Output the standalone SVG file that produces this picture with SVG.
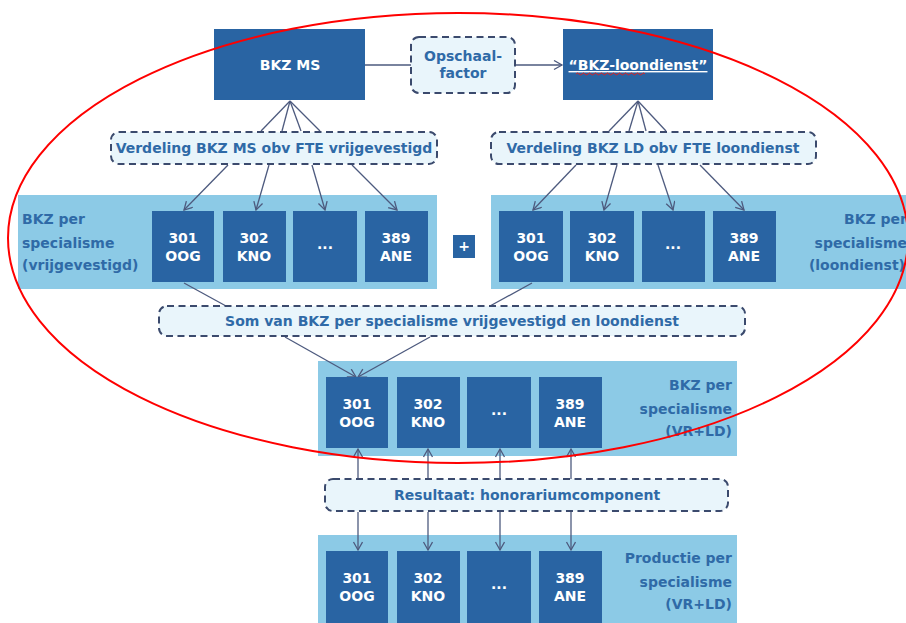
<svg xmlns="http://www.w3.org/2000/svg" width="906" height="623" viewBox="0 0 906 623">
  <defs>
    <style>
      text { font-family: "DejaVu Sans", Verdana, sans-serif; font-weight: bold; }
      .blk { fill: #2964a3; }
      .blk-t { fill: #ffffff; font-size: 14px; text-anchor: middle; }
      .panel { fill: #8ccae6; }
      .lbl { fill: #2f6aa7; font-size: 14px; }
      .dash { fill: #e9f5fb; stroke: #3b4a6d; stroke-width: 2; stroke-dasharray: 7 4.5; }
      .dash-t { fill: #2f6aa7; font-size: 14px; text-anchor: middle; }
      .ln { stroke: #4d5a7e; stroke-width: 1.3; fill: none; }
      .arr { marker-end: url(#head); }
    </style>
    <marker id="head" markerUnits="userSpaceOnUse" markerWidth="12" markerHeight="12" refX="9" refY="5" orient="auto">
      <path d="M1,0.5 L9,5 L1,9.5" fill="none" stroke="#4d5a7e" stroke-width="1.3"/>
    </marker>
  </defs>

  <rect width="906" height="623" fill="#ffffff"/>

  <!-- background panels -->
  <rect class="panel" x="18" y="195" width="419" height="94"/>
  <rect class="panel" x="491" y="195" width="420" height="94"/>
  <rect class="panel" x="318" y="361" width="419" height="95"/>
  <rect class="panel" x="318" y="535" width="419" height="95"/>

  <!-- connectors -->
  <g id="connectors">
    <line class="ln" x1="365" y1="65" x2="411" y2="65"/>
    <line class="ln arr" x1="515" y1="65" x2="562" y2="65"/>
    <!-- BKZ MS fan-out -->
    <line class="ln" x1="290" y1="101" x2="261" y2="131"/>
    <line class="ln" x1="290" y1="101" x2="282" y2="131"/>
    <line class="ln" x1="290" y1="101" x2="301" y2="131"/>
    <line class="ln" x1="290" y1="101" x2="320" y2="131"/>
    <line class="ln arr" x1="228" y1="165" x2="184" y2="210"/>
    <line class="ln arr" x1="269" y1="165" x2="256" y2="210"/>
    <line class="ln arr" x1="312" y1="165" x2="325" y2="210"/>
    <line class="ln arr" x1="352" y1="165" x2="397" y2="210"/>
    <!-- BKZ loondienst fan-out -->
    <line class="ln" x1="638" y1="101" x2="609" y2="131"/>
    <line class="ln" x1="638" y1="101" x2="629" y2="131"/>
    <line class="ln" x1="638" y1="101" x2="646" y2="131"/>
    <line class="ln" x1="638" y1="101" x2="666" y2="131"/>
    <line class="ln arr" x1="576" y1="165" x2="533" y2="210"/>
    <line class="ln arr" x1="617" y1="165" x2="604" y2="210"/>
    <line class="ln arr" x1="658" y1="165" x2="673" y2="210"/>
    <line class="ln arr" x1="700" y1="165" x2="744" y2="210"/>
    <!-- sum -->
    <line class="ln" x1="184" y1="283" x2="226" y2="306"/>
    <line class="ln" x1="532" y1="283" x2="490" y2="306"/>
    <line class="ln arr" x1="285" y1="337" x2="356" y2="377"/>
    <line class="ln arr" x1="430" y1="337" x2="358" y2="377"/>
    <!-- result, upward -->
    <line class="ln arr" x1="358" y1="479" x2="358" y2="449"/>
    <line class="ln arr" x1="428" y1="479" x2="428" y2="449"/>
    <line class="ln arr" x1="500" y1="479" x2="500" y2="449"/>
    <line class="ln arr" x1="571" y1="479" x2="571" y2="449"/>
    <!-- result, downward -->
    <line class="ln arr" x1="358" y1="512" x2="358" y2="550"/>
    <line class="ln arr" x1="428" y1="512" x2="428" y2="550"/>
    <line class="ln arr" x1="500" y1="512" x2="500" y2="550"/>
    <line class="ln arr" x1="571" y1="512" x2="571" y2="550"/>
  </g>

  <!-- top row -->
  <g id="bkz-ms">
    <rect class="blk" x="214" y="29" width="151" height="71"/>
    <text class="blk-t" x="290" y="70" font-size="13">BKZ MS</text>
  </g>
  <g id="opschaalfactor">
    <rect class="dash" x="411" y="37" width="104" height="56" rx="8"/>
    <text class="dash-t" x="463" y="61">Opschaal-</text>
    <text class="dash-t" x="463" y="78">factor</text>
  </g>
  <g id="bkz-loondienst">
    <rect class="blk" x="563" y="29" width="150" height="71"/>
    <text class="blk-t" x="638" y="70" font-size="13" text-decoration="underline">“BKZ-loondienst”</text>
    <path d="M576,74 q1.5,-2 3,0 t3,0 t3,0 t3,0 t3,0 t3,0 t3,0 t3,0 t3,0 t3,0 t3,0 t3,0 t3,0 t3,0 t3,0 t3,0 t3,0 t3,0 t3,0 t3,0 t3,0 t3,0 t3,0" fill="none" stroke="#e02020" stroke-width="1"/>
  </g>

  <!-- distribution steps -->
  <g id="verdeling-ms">
    <rect class="dash" x="111" y="132" width="326" height="32" rx="8"/>
    <text class="dash-t" x="274" y="153">Verdeling BKZ MS obv FTE vrijgevestigd</text>
  </g>
  <g id="verdeling-ld">
    <rect class="dash" x="491" y="132" width="325" height="32" rx="8"/>
    <text class="dash-t" x="653" y="153">Verdeling BKZ LD obv FTE loondienst</text>
  </g>

  <!-- specialisms, self-employed -->
  <g id="vg-label">
    <text class="lbl" x="22" y="224">BKZ per</text>
    <text class="lbl" x="22" y="248">specialisme</text>
    <text class="lbl" x="22" y="270">(vrijgevestigd)</text>
  </g>
  <g id="vg-301">
    <rect class="blk" x="152" y="211" width="62" height="71"/>
    <text class="blk-t" x="183" y="243">301</text>
    <text class="blk-t" x="183" y="261">OOG</text>
  </g>
  <g id="vg-302">
    <rect class="blk" x="223" y="211" width="63" height="71"/>
    <text class="blk-t" x="254" y="243">302</text>
    <text class="blk-t" x="254" y="261">KNO</text>
  </g>
  <g id="vg-etc">
    <rect class="blk" x="293" y="211" width="64" height="71"/>
    <text class="blk-t" x="325" y="249">...</text>
  </g>
  <g id="vg-389">
    <rect class="blk" x="365" y="211" width="63" height="71"/>
    <text class="blk-t" x="396" y="243">389</text>
    <text class="blk-t" x="396" y="261">ANE</text>
  </g>

  <g id="plus">
    <rect class="blk" x="453" y="235" width="22" height="23"/>
    <text class="blk-t" x="464" y="251">+</text>
  </g>

  <!-- specialisms, salaried -->
  <g id="ld-301">
    <rect class="blk" x="499" y="211" width="64" height="71"/>
    <text class="blk-t" x="531" y="243">301</text>
    <text class="blk-t" x="531" y="261">OOG</text>
  </g>
  <g id="ld-302">
    <rect class="blk" x="570" y="211" width="64" height="71"/>
    <text class="blk-t" x="602" y="243">302</text>
    <text class="blk-t" x="602" y="261">KNO</text>
  </g>
  <g id="ld-etc">
    <rect class="blk" x="642" y="211" width="63" height="71"/>
    <text class="blk-t" x="673" y="249">...</text>
  </g>
  <g id="ld-389">
    <rect class="blk" x="713" y="211" width="63" height="71"/>
    <text class="blk-t" x="744" y="243">389</text>
    <text class="blk-t" x="744" y="261">ANE</text>
  </g>
  <g id="ld-label">
    <text class="lbl" x="907" y="224" text-anchor="end">BKZ per</text>
    <text class="lbl" x="907" y="248" text-anchor="end">specialisme</text>
    <text class="lbl" x="905" y="270" text-anchor="end">(loondienst)</text>
  </g>

  <!-- sum -->
  <g id="som">
    <rect class="dash" x="159" y="306" width="586" height="30" rx="8"/>
    <text class="dash-t" x="452" y="326">Som van BKZ per specialisme vrijgevestigd en loondienst</text>
  </g>

  <!-- combined -->
  <g id="vrld-301">
    <rect class="blk" x="326" y="377" width="62" height="71"/>
    <text class="blk-t" x="357" y="409">301</text>
    <text class="blk-t" x="357" y="427">OOG</text>
  </g>
  <g id="vrld-302">
    <rect class="blk" x="397" y="377" width="63" height="71"/>
    <text class="blk-t" x="428" y="409">302</text>
    <text class="blk-t" x="428" y="427">KNO</text>
  </g>
  <g id="vrld-etc">
    <rect class="blk" x="467" y="377" width="64" height="71"/>
    <text class="blk-t" x="499" y="415">...</text>
  </g>
  <g id="vrld-389">
    <rect class="blk" x="539" y="377" width="63" height="71"/>
    <text class="blk-t" x="570" y="409">389</text>
    <text class="blk-t" x="570" y="427">ANE</text>
  </g>
  <g id="vrld-label">
    <text class="lbl" x="732" y="390" text-anchor="end">BKZ per</text>
    <text class="lbl" x="732" y="414" text-anchor="end">specialisme</text>
    <text class="lbl" x="732" y="436" text-anchor="end">(VR+LD)</text>
  </g>

  <g id="resultaat">
    <rect class="dash" x="325" y="479" width="403" height="32" rx="8"/>
    <text class="dash-t" x="527" y="500">Resultaat: honorariumcomponent</text>
  </g>

  <!-- production -->
  <g id="prod-301">
    <rect class="blk" x="326" y="551" width="62" height="72"/>
    <text class="blk-t" x="357" y="583">301</text>
    <text class="blk-t" x="357" y="601">OOG</text>
  </g>
  <g id="prod-302">
    <rect class="blk" x="397" y="551" width="63" height="72"/>
    <text class="blk-t" x="428" y="583">302</text>
    <text class="blk-t" x="428" y="601">KNO</text>
  </g>
  <g id="prod-etc">
    <rect class="blk" x="467" y="551" width="64" height="72"/>
    <text class="blk-t" x="499" y="589">...</text>
  </g>
  <g id="prod-389">
    <rect class="blk" x="539" y="551" width="63" height="72"/>
    <text class="blk-t" x="570" y="583">389</text>
    <text class="blk-t" x="570" y="601">ANE</text>
  </g>
  <g id="prod-label">
    <text class="lbl" x="732" y="563" text-anchor="end">Productie per</text>
    <text class="lbl" x="732" y="587" text-anchor="end">specialisme</text>
    <text class="lbl" x="732" y="609" text-anchor="end">(VR+LD)</text>
  </g>

  <!-- highlighted scope -->
  <ellipse cx="458" cy="238" rx="450" ry="225" fill="none" stroke="#ff0000" stroke-width="2"/>
</svg>
